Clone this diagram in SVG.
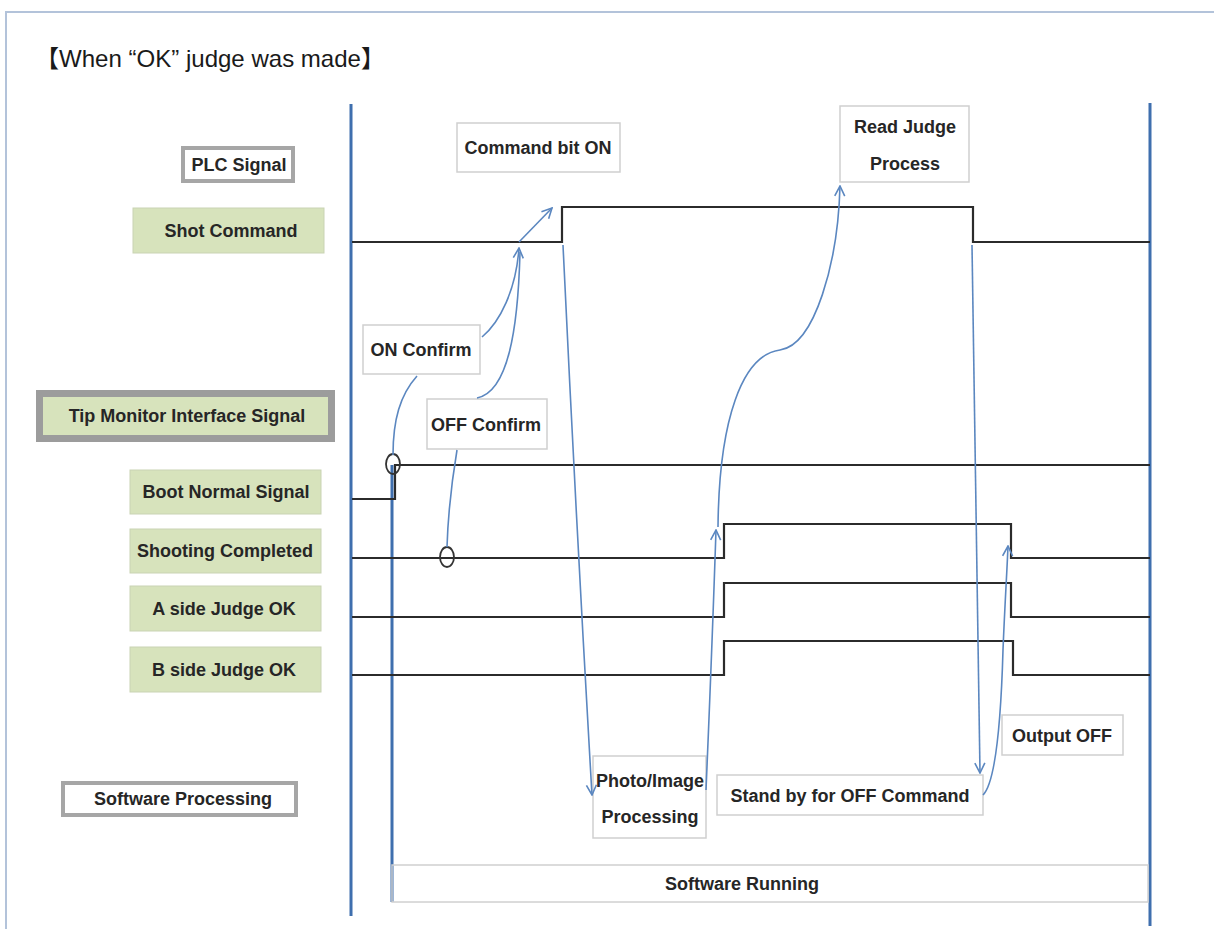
<svg xmlns="http://www.w3.org/2000/svg" width="1214" height="929" viewBox="0 0 1214 929">
<defs>
<style>
.lbl{font-family:"Liberation Sans","Noto Sans CJK JP",sans-serif;font-weight:bold;font-size:18px;fill:#262626;text-anchor:middle}
.title{font-family:"Liberation Sans","Noto Sans CJK JP",sans-serif;font-size:24px;fill:#1a1a1a}
.green{fill:#d7e3bc;stroke:#c9d3b4;stroke-width:1}
.gframe{fill:#fff;stroke:#a6a6a6;stroke-width:4}
.box{fill:#fff;stroke:#cfcfcf;stroke-width:1.5}
.sig{fill:none;stroke:#2b2b2b;stroke-width:2.2}
.bl{stroke:#3f6fae;stroke-width:3}
.flow{fill:none;stroke:#5b87c0;stroke-width:1.6}
.arr{marker-end:url(#arr)}
.ring{fill:none;stroke:#333;stroke-width:1.8}
</style>
<marker id="arr" viewBox="0 0 12 12" refX="11" refY="6" markerWidth="12" markerHeight="12" markerUnits="userSpaceOnUse" orient="auto">
<path d="M1,1 L11,6 L1,11" fill="none" stroke="#5b87c0" stroke-width="1.6"/>
</marker>
</defs>
<rect width="1214" height="929" fill="#fff"/>
<path d="M6,929 V12 H1214" fill="none" stroke="#b3c3da" stroke-width="2"/>
<text class="title" x="35" y="67" textLength="350" lengthAdjust="spacingAndGlyphs">【When “OK” judge was made】</text>

<g id="axes">
<line class="bl" x1="351" y1="104" x2="351" y2="916"/>
<line class="bl" x1="1150" y1="103" x2="1150" y2="926"/>
<line class="bl" x1="392" y1="465" x2="392" y2="902" stroke-width="2.5"/>
</g>

<g id="software-running">
<rect x="392" y="865" width="756" height="37" fill="none" stroke="#d0d0d0" stroke-width="1.5"/>
<text class="lbl" x="742" y="890">Software Running</text>
</g>

<g id="signals">
<path class="sig" d="M352,242 H562 V207 H973 V242 H1150"/>
<path class="sig" d="M352,499 H395 V465 H1150"/>
<path class="sig" d="M352,558 H724 V524 H1011 V558 H1150"/>
<path class="sig" d="M352,617 H724 V583 H1011 V617 H1150"/>
<path class="sig" d="M352,675 H724 V641 H1013 V675 H1150"/>
<ellipse class="ring" cx="393" cy="464" rx="7" ry="10"/>
<ellipse class="ring" cx="447" cy="557" rx="7" ry="10"/>
</g>

<g id="plc-signal"><rect class="gframe" x="183" y="148" width="110" height="33"/><text class="lbl" x="239" y="171">PLC Signal</text></g>
<g id="shot-command"><rect class="green" x="133" y="208" width="191" height="45"/><text class="lbl" x="231" y="237">Shot Command</text></g>
<g id="tip-monitor"><rect x="39.5" y="393.5" width="292" height="45" fill="#d7e3bc" stroke="#9c9c9c" stroke-width="7"/><text class="lbl" x="187" y="422">Tip Monitor Interface Signal</text></g>
<g id="boot-normal"><rect class="green" x="130" y="470" width="191" height="44"/><text class="lbl" x="226" y="498">Boot Normal Signal</text></g>
<g id="shooting-completed"><rect class="green" x="130" y="529" width="191" height="44"/><text class="lbl" x="225" y="557">Shooting Completed</text></g>
<g id="a-side"><rect class="green" x="130" y="586" width="191" height="45"/><text class="lbl" x="224" y="615">A side Judge OK</text></g>
<g id="b-side"><rect class="green" x="130" y="647" width="191" height="45"/><text class="lbl" x="224" y="676">B side Judge OK</text></g>
<g id="software-processing"><rect class="gframe" x="63" y="783" width="233" height="32"/><text class="lbl" x="183" y="805">Software Processing</text></g>

<g id="command-bit-on"><rect class="box" x="457" y="123" width="163" height="49"/><text class="lbl" x="538" y="154">Command bit ON</text></g>
<g id="read-judge"><rect class="box" x="840" y="106" width="129" height="76"/><text class="lbl" x="905" y="133">Read Judge</text><text class="lbl" x="905" y="170">Process</text></g>
<g id="on-confirm"><rect class="box" x="363" y="325" width="117" height="49"/><text class="lbl" x="421" y="356">ON Confirm</text></g>
<g id="off-confirm"><rect class="box" x="427" y="399" width="120" height="50"/><text class="lbl" x="486" y="431">OFF Confirm</text></g>
<g id="photo-image"><rect class="box" x="593" y="756" width="113" height="82"/><text class="lbl" x="650" y="787">Photo/Image</text><text class="lbl" x="650" y="823">Processing</text></g>
<g id="stand-by"><rect class="box" x="717" y="775" width="266" height="40"/><text class="lbl" x="850" y="802">Stand by for OFF Command</text></g>
<g id="output-off"><rect class="box" x="1002" y="715" width="121" height="40"/><text class="lbl" x="1062" y="742">Output OFF</text></g>

<g id="connectors">
<path class="flow" d="M393,455 C393,420 400,395 417,376"/>
<path class="flow arr" d="M482,337 C500,322 516,290 519,248"/>
<path class="flow" d="M457,450 C452,480 448,515 447,547"/>
<path class="flow" d="M477,398 C508,392 518,330 520,252"/>
<path class="flow arr" d="M519,242 L552,208"/>
<path class="flow arr" d="M563,245 Q576,520 592,795"/>
<path class="flow arr" d="M706,790 Q712,650 716,530"/>
<path class="flow arr" d="M718,527 C719,420 742,355 780,350 C815,345 838,262 840,186"/>
<path class="flow arr" d="M972,245 Q976,510 980,773"/>
<path class="flow arr" d="M983,795 C996,782 1001,720 1003,650 C1005,600 1007,572 1008,546"/>
</g>
</svg>
